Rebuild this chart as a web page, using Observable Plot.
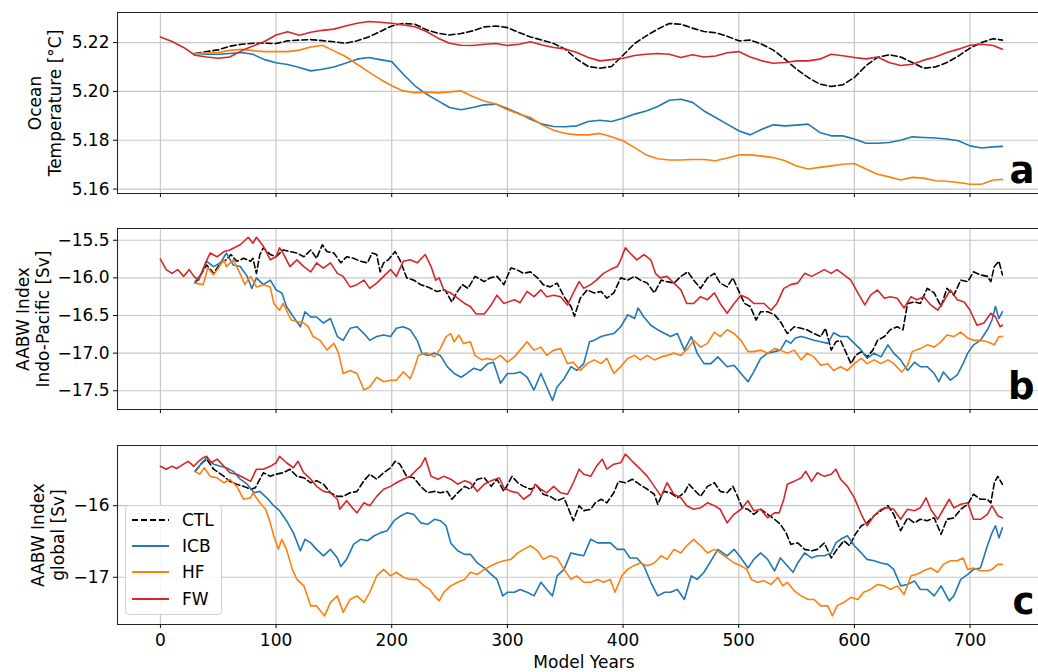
<!DOCTYPE html>
<html><head><meta charset="utf-8">
<script src="https://cdn.jsdelivr.net/npm/d3@7"></script>
<script src="https://cdn.jsdelivr.net/npm/@observablehq/plot@0.6"></script>
<style>
body{margin:0;background:#fff;}
#chart{position:relative;width:1038px;height:672px;font-family:"DejaVu Sans",sans-serif;overflow:hidden;}
#chart svg{position:absolute;left:0;}
#legend{position:absolute;left:125px;top:505px;width:97px;height:110px;box-sizing:border-box;border:1px solid #d0d0d0;border-radius:4px;background:rgba(255,255,255,0.85);}
.row{position:absolute;left:6px;height:26px;display:flex;align-items:center;font-size:17px;color:#000;}
.row svg{position:static !important;margin-right:13px;}
</style></head><body><div id="chart"></div>
<script>
// ---------- data ----------
const seriesNames = ["CTL","ICB","HF","FW"];
const seriesColors = ["#000000","#1f77b4","#ff7f0e","#d62728"];
const xTicks = [0,100,200,300,400,500,600,700];

// Panel a: Ocean temperature [°C]
const aCTL = [[30,5.2155],[40,5.2163],[50,5.217],[60,5.2185],[70,5.2193],[80,5.2197],[90,5.2197],[100,5.2196],[110,5.2207],[120,5.221],[130,5.2212],[140,5.2208],[150,5.2203],[160,5.2197],[170,5.2207],[180,5.2223],[190,5.2245],[200,5.2268],[210,5.2278],[220,5.2275],[230,5.2252],[240,5.2238],[250,5.2231],[260,5.2237],[270,5.2248],[280,5.2264],[290,5.2268],[300,5.2261],[310,5.2241],[320,5.2223],[330,5.221],[340,5.2196],[350,5.2173],[360,5.2132],[370,5.2102],[380,5.2095],[390,5.2102],[400,5.2148],[410,5.2196],[420,5.2227],[430,5.2255],[440,5.2278],[450,5.2275],[460,5.2259],[470,5.2245],[480,5.224],[490,5.2226],[500,5.2207],[510,5.221],[520,5.2193],[530,5.2169],[540,5.2132],[550,5.2091],[560,5.2057],[570,5.203],[580,5.202],[590,5.2027],[600,5.2057],[610,5.2105],[620,5.2139],[630,5.215],[640,5.2141],[650,5.2118],[660,5.2095],[670,5.21],[680,5.2118],[690,5.2145],[700,5.2177],[710,5.22],[720,5.2216],[728,5.221]];
const aICB = [[30,5.2155],[40,5.2152],[50,5.2152],[60,5.2155],[70,5.2159],[80,5.2152],[90,5.213],[100,5.2117],[110,5.211],[120,5.2098],[130,5.2084],[140,5.2091],[150,5.21],[160,5.2115],[170,5.2132],[180,5.2139],[190,5.213],[200,5.2122],[210,5.207],[220,5.2023],[230,5.1989],[240,5.1961],[250,5.1934],[260,5.1925],[270,5.1934],[280,5.1945],[290,5.1948],[300,5.193],[310,5.191],[320,5.1886],[330,5.1866],[340,5.1856],[350,5.1855],[360,5.1859],[370,5.1877],[380,5.1882],[390,5.1877],[400,5.189],[410,5.1907],[420,5.192],[430,5.1938],[440,5.1964],[450,5.1968],[460,5.1955],[470,5.192],[480,5.1893],[490,5.1866],[500,5.1839],[510,5.1822],[520,5.1845],[530,5.1863],[540,5.1859],[550,5.1862],[560,5.1866],[570,5.1832],[580,5.1818],[590,5.1818],[600,5.1805],[610,5.1788],[620,5.1788],[630,5.1791],[640,5.18],[650,5.1814],[660,5.1811],[670,5.1809],[680,5.1805],[690,5.1798],[700,5.1777],[710,5.1768],[720,5.1773],[728,5.1775]];
const aHF = [[30,5.2155],[40,5.2157],[50,5.2159],[60,5.2168],[70,5.2172],[80,5.2167],[90,5.2163],[100,5.2163],[110,5.2163],[120,5.2169],[130,5.2182],[140,5.2189],[150,5.2166],[160,5.2143],[170,5.2111],[180,5.208],[190,5.205],[200,5.2023],[210,5.2002],[220,5.1995],[230,5.1997],[240,5.1994],[250,5.1998],[260,5.2002],[270,5.1979],[280,5.1961],[290,5.1948],[300,5.1925],[310,5.1907],[320,5.1893],[330,5.1863],[340,5.1841],[350,5.1828],[360,5.1822],[370,5.1822],[380,5.1828],[390,5.1814],[400,5.1798],[410,5.177],[420,5.174],[430,5.1724],[440,5.1719],[450,5.1719],[460,5.1721],[470,5.1721],[480,5.1716],[490,5.1727],[500,5.174],[510,5.174],[520,5.1735],[530,5.1729],[540,5.1716],[550,5.1695],[560,5.1682],[570,5.1689],[580,5.1695],[590,5.1702],[600,5.1705],[610,5.1682],[620,5.1661],[630,5.165],[640,5.1637],[650,5.1648],[660,5.1645],[670,5.1634],[680,5.1632],[690,5.1627],[700,5.162],[710,5.162],[720,5.1637],[728,5.164]];
const aFW = [[0,5.2223],[10,5.2204],[20,5.218],[30,5.2148],[40,5.2141],[50,5.2136],[60,5.2141],[70,5.2166],[80,5.2186],[90,5.2204],[100,5.2231],[110,5.2244],[120,5.223],[130,5.2242],[140,5.225],[150,5.2255],[160,5.2268],[170,5.2279],[180,5.2286],[190,5.2283],[200,5.2279],[210,5.2272],[220,5.2265],[230,5.2245],[240,5.2218],[250,5.2197],[260,5.2189],[270,5.2188],[280,5.2193],[290,5.2196],[300,5.2188],[310,5.2193],[320,5.2203],[330,5.219],[340,5.218],[350,5.2174],[360,5.2159],[370,5.2139],[380,5.2125],[390,5.213],[400,5.2136],[410,5.2147],[420,5.2152],[430,5.2155],[440,5.2152],[450,5.2139],[460,5.215],[470,5.2141],[480,5.2145],[490,5.2158],[500,5.2163],[510,5.2141],[520,5.2125],[530,5.2115],[540,5.2118],[550,5.2125],[560,5.2125],[570,5.2132],[580,5.2152],[590,5.2146],[600,5.2139],[610,5.2133],[620,5.2141],[630,5.2118],[640,5.2106],[650,5.2111],[660,5.2128],[670,5.2141],[680,5.2159],[690,5.2173],[700,5.2189],[710,5.2193],[720,5.2188],[728,5.2173]];
const aTicks = [5.16,5.18,5.20,5.22];

// Panel b: AABW Index Indo-Pacific [Sv]
const bCTL = [[30,-16.07],[34,-15.98],[40,-15.83],[46,-15.94],[52,-15.80],[57,-15.76],[61,-15.69],[66,-15.78],[72,-15.74],[78,-15.78],[80,-15.74],[83,-15.94],[86,-15.69],[89,-15.60],[95,-15.69],[100,-15.72],[106,-15.63],[112,-15.65],[118,-15.67],[124,-15.72],[130,-15.63],[135,-15.74],[140,-15.56],[144,-15.65],[150,-15.67],[156,-15.80],[161,-15.72],[167,-15.74],[173,-15.78],[179,-15.80],[183,-15.67],[187,-15.69],[190,-15.92],[193,-15.80],[197,-15.76],[203,-15.65],[207,-15.76],[213,-16.00],[219,-16.03],[225,-16.09],[231,-16.12],[239,-16.18],[246,-16.16],[252,-16.32],[256,-16.20],[261,-16.09],[266,-16.14],[272,-15.98],[280,-16.05],[285,-16.00],[291,-15.98],[297,-16.09],[303,-15.87],[308,-15.89],[314,-15.94],[320,-15.92],[326,-16.00],[331,-16.09],[337,-16.12],[343,-16.07],[349,-16.25],[355,-16.38],[358,-16.51],[363,-16.27],[369,-16.16],[375,-16.20],[381,-16.18],[386,-16.27],[392,-16.20],[398,-16.00],[404,-16.03],[410,-15.98],[415,-16.03],[421,-16.07],[427,-16.20],[433,-16.03],[438,-16.05],[444,-16.07],[450,-15.98],[456,-15.92],[461,-16.03],[467,-16.14],[473,-16.00],[479,-15.94],[484,-16.07],[490,-16.12],[495,-16.00],[499,-16.14],[505,-16.34],[510,-16.38],[515,-16.56],[519,-16.45],[525,-16.45],[531,-16.49],[536,-16.58],[542,-16.74],[548,-16.65],[554,-16.67],[559,-16.69],[565,-16.74],[571,-16.78],[575,-16.67],[580,-16.96],[584,-16.85],[588,-16.83],[593,-17.00],[597,-17.14],[601,-17.03],[606,-16.98],[611,-17.05],[616,-16.96],[620,-16.83],[626,-16.78],[631,-16.69],[637,-16.65],[642,-16.69],[646,-16.34],[652,-16.32],[657,-16.34],[663,-16.14],[669,-16.20],[675,-16.38],[680,-16.14],[686,-16.23],[692,-16.03],[698,-16.05],[703,-15.92],[709,-15.96],[715,-15.98],[718,-16.05],[721,-15.85],[725,-15.78],[728,-15.96]];
const bICB = [[30,-16.05],[36,-15.94],[40,-15.78],[46,-15.85],[52,-15.80],[57,-15.67],[63,-15.83],[69,-15.85],[75,-15.98],[79,-16.14],[83,-16.00],[89,-16.09],[95,-16.03],[100,-16.16],[105,-16.20],[109,-16.38],[115,-16.52],[121,-16.65],[125,-16.45],[130,-16.52],[135,-16.52],[141,-16.60],[147,-16.54],[153,-16.78],[158,-16.83],[164,-16.67],[170,-16.65],[176,-16.74],[181,-16.83],[187,-16.78],[193,-16.76],[199,-16.78],[204,-16.67],[210,-16.65],[216,-16.69],[222,-16.83],[226,-17.00],[231,-17.03],[237,-17.00],[242,-17.03],[248,-17.18],[254,-17.27],[260,-17.32],[265,-17.27],[271,-17.20],[277,-17.23],[283,-17.14],[288,-17.12],[294,-17.40],[300,-17.27],[306,-17.27],[311,-17.25],[317,-17.32],[323,-17.49],[329,-17.27],[334,-17.45],[339,-17.63],[343,-17.45],[349,-17.34],[355,-17.18],[360,-17.23],[366,-17.14],[371,-16.85],[375,-16.83],[381,-16.78],[386,-16.76],[392,-16.74],[398,-16.65],[404,-16.49],[410,-16.54],[413,-16.40],[418,-16.52],[424,-16.63],[430,-16.69],[436,-16.74],[441,-16.78],[447,-16.74],[453,-16.96],[459,-16.78],[464,-17.00],[470,-17.14],[476,-17.14],[482,-17.05],[490,-17.18],[496,-17.16],[502,-17.27],[508,-17.38],[513,-17.25],[519,-17.07],[525,-17.00],[531,-16.98],[536,-16.96],[541,-16.83],[545,-16.87],[549,-16.80],[554,-16.78],[559,-16.80],[565,-16.83],[571,-16.85],[577,-16.87],[582,-16.73],[588,-16.78],[594,-16.78],[600,-16.87],[606,-16.96],[611,-17.07],[617,-17.00],[623,-17.05],[629,-16.89],[634,-17.00],[640,-17.09],[646,-17.23],[652,-17.12],[657,-17.18],[663,-17.18],[669,-17.27],[673,-17.38],[677,-17.25],[683,-17.36],[689,-17.29],[694,-17.14],[698,-17.00],[703,-16.89],[709,-16.83],[715,-16.69],[719,-16.56],[722,-16.38],[725,-16.54],[728,-16.45]];
const bHF = [[30,-16.07],[37,-16.09],[41,-15.87],[46,-15.96],[50,-15.87],[55,-15.76],[57,-15.85],[63,-15.76],[66,-15.85],[70,-15.98],[73,-16.09],[78,-15.98],[83,-16.12],[89,-16.09],[95,-16.12],[98,-16.34],[103,-16.43],[106,-16.34],[109,-16.43],[113,-16.56],[118,-16.58],[124,-16.60],[128,-16.65],[132,-16.78],[138,-16.83],[144,-16.96],[150,-16.87],[154,-17.00],[158,-17.27],[164,-17.23],[170,-17.27],[176,-17.49],[181,-17.45],[187,-17.32],[193,-17.38],[199,-17.36],[204,-17.36],[210,-17.25],[216,-17.34],[220,-17.18],[223,-17.03],[228,-17.00],[231,-17.00],[237,-17.05],[242,-16.94],[247,-16.78],[251,-16.74],[254,-16.85],[258,-16.76],[262,-16.87],[268,-16.85],[272,-17.03],[278,-17.09],[282,-17.07],[288,-17.09],[294,-17.03],[300,-17.12],[306,-17.05],[311,-16.96],[317,-16.85],[323,-16.96],[329,-16.92],[334,-17.03],[340,-16.96],[346,-16.94],[352,-17.14],[357,-17.12],[363,-17.23],[369,-17.14],[375,-17.09],[381,-17.14],[386,-17.07],[392,-17.27],[398,-17.18],[404,-17.07],[410,-17.03],[415,-17.09],[421,-17.03],[427,-17.09],[433,-17.05],[438,-17.03],[444,-17.00],[450,-17.03],[456,-16.94],[461,-16.83],[467,-16.92],[473,-16.87],[479,-16.72],[484,-16.78],[490,-16.69],[496,-16.74],[502,-16.83],[508,-16.98],[513,-16.98],[519,-16.96],[525,-17.00],[531,-16.94],[536,-16.96],[542,-17.00],[548,-16.96],[554,-17.09],[559,-17.00],[565,-17.05],[571,-17.16],[577,-17.14],[582,-17.23],[588,-17.18],[594,-17.23],[600,-17.14],[606,-17.07],[611,-17.14],[617,-17.09],[623,-17.14],[629,-17.09],[634,-17.14],[641,-17.25],[646,-17.16],[650,-16.98],[657,-16.94],[663,-16.89],[669,-16.92],[675,-16.85],[680,-16.76],[686,-16.78],[692,-16.72],[698,-16.80],[703,-16.83],[709,-16.83],[715,-16.85],[721,-16.89],[725,-16.78],[728,-16.78]];
const bFW = [[0,-15.75],[5,-15.89],[10,-15.94],[15,-15.89],[20,-15.98],[25,-15.89],[29,-15.98],[33,-16.03],[39,-15.80],[43,-15.67],[49,-15.72],[55,-15.65],[60,-15.63],[69,-15.56],[76,-15.46],[80,-15.54],[83,-15.46],[89,-15.58],[95,-15.76],[100,-15.72],[103,-15.60],[106,-15.67],[112,-15.85],[118,-15.76],[124,-15.85],[130,-15.92],[135,-15.80],[141,-15.87],[147,-15.80],[153,-15.94],[158,-15.98],[164,-16.12],[170,-16.09],[176,-16.03],[181,-16.14],[187,-16.07],[193,-15.98],[199,-15.89],[204,-15.98],[210,-15.78],[216,-15.76],[222,-15.80],[229,-15.69],[234,-15.85],[238,-16.03],[241,-16.00],[245,-16.16],[251,-16.20],[257,-16.27],[263,-16.34],[268,-16.38],[273,-16.48],[280,-16.48],[286,-16.36],[291,-16.23],[297,-16.34],[306,-16.29],[311,-16.33],[317,-16.18],[323,-16.25],[329,-16.16],[334,-16.25],[340,-16.23],[346,-16.25],[352,-16.36],[357,-16.20],[362,-16.05],[366,-16.14],[372,-16.09],[377,-16.03],[383,-15.94],[389,-15.89],[395,-15.85],[398,-15.76],[402,-15.60],[406,-15.67],[412,-15.76],[418,-15.69],[424,-15.76],[428,-15.94],[432,-16.00],[438,-15.98],[444,-16.07],[450,-16.16],[455,-16.34],[461,-16.34],[467,-16.25],[473,-16.29],[479,-16.20],[484,-16.34],[490,-16.47],[496,-16.34],[502,-16.23],[508,-16.27],[513,-16.34],[522,-16.34],[528,-16.43],[533,-16.34],[539,-16.14],[545,-16.09],[551,-16.07],[557,-15.94],[563,-15.98],[568,-15.94],[574,-15.89],[580,-15.94],[585,-15.89],[591,-15.96],[597,-16.03],[603,-16.20],[609,-16.36],[614,-16.23],[620,-16.16],[626,-16.27],[631,-16.25],[637,-16.27],[643,-16.40],[649,-16.25],[654,-16.29],[660,-16.25],[666,-16.36],[672,-16.43],[677,-16.32],[683,-16.16],[689,-16.29],[695,-16.32],[700,-16.43],[706,-16.63],[712,-16.60],[718,-16.47],[722,-16.52],[726,-16.65],[728,-16.63]];
const bTicks = [-17.5,-17.0,-16.5,-16.0,-15.5];

// Panel c: AABW Index global [Sv]
const cCTL = [[30,-15.52],[36,-15.40],[40,-15.35],[46,-15.49],[55,-15.59],[60,-15.66],[66,-15.70],[72,-15.73],[78,-15.77],[82,-15.75],[86,-15.63],[89,-15.54],[95,-15.59],[100,-15.56],[106,-15.54],[112,-15.49],[118,-15.59],[124,-15.61],[130,-15.68],[135,-15.65],[141,-15.70],[147,-15.82],[153,-15.87],[158,-15.87],[164,-15.82],[170,-15.80],[176,-15.65],[181,-15.56],[187,-15.63],[193,-15.54],[199,-15.47],[203,-15.38],[207,-15.42],[213,-15.59],[219,-15.61],[225,-15.73],[231,-15.82],[237,-15.80],[242,-15.82],[248,-15.80],[252,-15.91],[257,-15.82],[263,-15.73],[268,-15.77],[274,-15.63],[280,-15.61],[286,-15.73],[291,-15.63],[297,-15.80],[304,-15.59],[309,-15.68],[314,-15.73],[320,-15.77],[326,-15.73],[331,-15.84],[337,-15.87],[343,-15.93],[349,-15.89],[353,-16.05],[357,-16.21],[362,-16.00],[366,-16.07],[372,-16.05],[376,-15.96],[381,-15.91],[386,-15.96],[392,-15.82],[396,-15.66],[402,-15.68],[408,-15.63],[414,-15.70],[421,-15.77],[427,-15.84],[430,-15.98],[435,-15.80],[441,-15.82],[447,-15.89],[453,-15.82],[457,-15.70],[461,-15.77],[467,-15.87],[473,-15.73],[479,-15.68],[484,-15.80],[490,-15.82],[495,-15.73],[499,-15.87],[503,-16.03],[508,-16.05],[513,-16.12],[519,-16.05],[525,-16.12],[531,-16.19],[536,-16.26],[541,-16.38],[545,-16.54],[551,-16.52],[557,-16.61],[563,-16.63],[568,-16.61],[574,-16.52],[580,-16.73],[585,-16.61],[591,-16.49],[596,-16.56],[600,-16.42],[606,-16.28],[611,-16.24],[617,-16.14],[623,-16.07],[629,-16.00],[634,-16.12],[640,-16.35],[646,-16.17],[652,-16.24],[657,-16.19],[663,-16.21],[669,-16.17],[675,-16.40],[680,-16.19],[686,-16.17],[692,-16.05],[698,-15.98],[703,-15.84],[709,-15.91],[715,-15.91],[718,-15.96],[721,-15.68],[724,-15.59],[728,-15.70]];
const cICB = [[30,-15.52],[36,-15.40],[40,-15.33],[46,-15.42],[52,-15.45],[57,-15.47],[63,-15.52],[69,-15.63],[75,-15.70],[81,-15.82],[86,-15.80],[92,-15.89],[98,-16.00],[103,-16.07],[109,-16.21],[115,-16.38],[121,-16.63],[125,-16.47],[130,-16.52],[135,-16.61],[141,-16.70],[147,-16.61],[153,-16.73],[156,-16.85],[161,-16.75],[167,-16.54],[173,-16.47],[179,-16.49],[185,-16.42],[190,-16.38],[196,-16.35],[202,-16.21],[208,-16.14],[213,-16.10],[219,-16.12],[225,-16.24],[231,-16.26],[237,-16.19],[242,-16.21],[247,-16.28],[251,-16.52],[257,-16.63],[263,-16.68],[268,-16.68],[274,-16.80],[280,-16.87],[286,-16.96],[291,-17.03],[296,-17.26],[300,-17.21],[306,-17.21],[311,-17.17],[317,-17.21],[323,-17.26],[329,-17.07],[334,-17.17],[339,-17.26],[343,-16.98],[349,-16.89],[355,-16.66],[360,-16.68],[366,-16.70],[372,-16.47],[378,-16.52],[383,-16.52],[389,-16.52],[395,-16.61],[401,-16.61],[406,-16.73],[412,-16.73],[418,-16.84],[424,-17.07],[430,-17.26],[436,-17.21],[441,-17.21],[447,-17.17],[453,-17.31],[459,-16.98],[464,-17.03],[470,-16.93],[476,-16.77],[482,-16.61],[490,-16.70],[496,-16.61],[502,-16.73],[508,-16.87],[513,-16.75],[519,-16.66],[525,-16.75],[531,-16.91],[536,-16.73],[542,-16.84],[547,-16.93],[551,-16.80],[557,-16.66],[563,-16.73],[568,-16.70],[574,-16.70],[580,-16.66],[584,-16.52],[588,-16.47],[594,-16.42],[600,-16.56],[606,-16.66],[611,-16.75],[617,-16.77],[623,-16.80],[629,-16.82],[634,-16.89],[640,-17.12],[646,-17.10],[652,-17.05],[657,-17.17],[663,-17.17],[669,-17.26],[675,-17.12],[682,-17.33],[686,-17.26],[692,-17.03],[698,-16.96],[703,-16.89],[709,-16.87],[715,-16.56],[719,-16.38],[722,-16.28],[725,-16.45],[728,-16.31]];
const cHF = [[30,-15.52],[34,-15.56],[38,-15.47],[43,-15.59],[49,-15.61],[55,-15.68],[60,-15.63],[66,-15.73],[72,-15.91],[78,-15.89],[80,-15.82],[86,-15.96],[91,-16.05],[95,-16.24],[98,-16.42],[102,-16.61],[105,-16.47],[109,-16.61],[114,-16.89],[118,-17.03],[124,-17.12],[130,-17.40],[135,-17.40],[142,-17.54],[147,-17.35],[153,-17.26],[158,-17.49],[164,-17.31],[170,-17.26],[176,-17.35],[181,-17.21],[187,-16.98],[193,-16.89],[199,-16.98],[204,-16.93],[210,-17.00],[216,-17.03],[222,-17.03],[228,-17.12],[233,-17.17],[237,-17.26],[241,-17.33],[245,-17.21],[251,-17.12],[257,-17.07],[263,-17.03],[268,-16.93],[274,-16.96],[280,-16.89],[286,-16.84],[291,-16.80],[297,-16.77],[303,-16.75],[309,-16.66],[314,-16.61],[320,-16.56],[326,-16.63],[331,-16.75],[337,-16.70],[343,-16.73],[349,-16.89],[355,-17.03],[360,-16.98],[366,-17.07],[372,-17.07],[378,-17.03],[383,-17.07],[389,-17.03],[393,-17.21],[399,-16.98],[404,-16.89],[409,-16.84],[415,-16.80],[421,-16.84],[427,-16.80],[433,-16.70],[438,-16.75],[444,-16.61],[450,-16.66],[455,-16.56],[461,-16.47],[467,-16.56],[473,-16.66],[479,-16.61],[484,-16.66],[490,-16.73],[496,-16.80],[502,-16.84],[507,-16.89],[511,-17.03],[516,-17.07],[522,-17.05],[528,-17.10],[534,-17.00],[538,-17.12],[542,-17.07],[548,-17.19],[554,-17.26],[560,-17.31],[565,-17.31],[571,-17.40],[577,-17.40],[581,-17.54],[585,-17.40],[591,-17.35],[597,-17.28],[603,-17.31],[608,-17.21],[614,-17.17],[620,-17.10],[626,-17.12],[631,-17.17],[637,-17.12],[643,-17.24],[649,-16.98],[654,-16.96],[660,-16.91],[666,-16.87],[672,-16.93],[677,-16.82],[683,-16.77],[689,-16.77],[694,-16.73],[698,-16.89],[703,-16.87],[709,-16.91],[715,-16.91],[719,-16.89],[724,-16.82],[728,-16.82]];
const cFW = [[0,-15.45],[5,-15.49],[10,-15.45],[14,-15.48],[20,-15.42],[24,-15.38],[29,-15.45],[33,-15.38],[37,-15.33],[40,-15.31],[44,-15.40],[49,-15.35],[55,-15.45],[60,-15.54],[66,-15.56],[72,-15.61],[78,-15.66],[83,-15.49],[89,-15.49],[95,-15.45],[100,-15.40],[103,-15.31],[109,-15.40],[115,-15.47],[119,-15.38],[124,-15.54],[130,-15.63],[135,-15.73],[141,-15.80],[147,-15.82],[153,-15.91],[155,-16.05],[161,-15.93],[167,-16.05],[170,-16.10],[176,-15.96],[181,-16.00],[187,-15.87],[193,-15.77],[199,-15.73],[204,-15.68],[210,-15.63],[216,-15.59],[222,-15.49],[225,-15.45],[229,-15.33],[234,-15.59],[240,-15.63],[245,-15.59],[251,-15.63],[257,-15.70],[263,-15.65],[268,-15.68],[274,-15.80],[280,-15.70],[286,-15.65],[293,-15.61],[297,-15.75],[303,-15.80],[309,-15.82],[314,-15.91],[320,-15.84],[324,-15.70],[329,-15.77],[334,-15.82],[340,-15.73],[346,-15.82],[352,-15.84],[357,-15.68],[362,-15.49],[366,-15.56],[372,-15.59],[377,-15.45],[382,-15.35],[386,-15.49],[392,-15.42],[398,-15.40],[402,-15.28],[408,-15.38],[415,-15.49],[421,-15.59],[427,-15.73],[433,-15.87],[438,-15.68],[444,-15.84],[450,-15.89],[455,-16.00],[461,-16.05],[467,-16.03],[473,-15.96],[479,-16.00],[484,-16.05],[490,-16.24],[496,-16.12],[502,-16.05],[508,-15.93],[513,-16.07],[519,-16.05],[525,-16.17],[531,-16.10],[535,-16.10],[539,-15.91],[542,-15.70],[548,-15.66],[554,-15.61],[558,-15.52],[563,-15.66],[568,-15.54],[574,-15.59],[580,-15.56],[584,-15.49],[588,-15.63],[594,-15.73],[600,-15.89],[606,-16.12],[611,-16.28],[617,-16.14],[623,-16.05],[629,-16.03],[634,-16.05],[640,-16.19],[646,-16.05],[652,-16.07],[657,-16.03],[662,-15.89],[666,-16.05],[672,-16.19],[677,-16.05],[682,-15.91],[686,-16.03],[692,-15.98],[698,-15.96],[703,-16.19],[709,-16.19],[715,-16.12],[719,-16.00],[724,-16.14],[728,-16.17]];
const cTicks = [-17,-16];

// ---------- drawing ----------
const W = 1038, ML = 117;
const xDomain = [-37.1, 759.2];
const FONT = "DejaVu Sans";
const gridColor = "#c8c8c8";

function panel({top, height, mt, mb, yDomain, yTicks, yFmt, series, ylabel, ylabelX, letter, showX}) {
  const marks = [
    Plot.ruleX(xTicks, {stroke: gridColor, strokeWidth: 1.2}),
    Plot.ruleY(yTicks, {stroke: gridColor, strokeWidth: 1.2}),
  ];
  series.forEach((s, i) => {
    marks.push(Plot.line(s, {x: d => d[0], y: d => d[1], stroke: seriesColors[i],
      strokeWidth: 1.6, strokeDasharray: i === 0 ? "6,3" : null, curve: "linear"}));
  });
  marks.push(
    Plot.ruleY([yDomain[0], yDomain[1]], {stroke: "#262626", strokeWidth: 1.1}),
    Plot.ruleX([xDomain[0]], {stroke: "#262626", strokeWidth: 1.1}),
    Plot.axisY(yTicks, {tickFormat: yFmt, tickSize: 4, tickPadding: 4, fontSize: 17, label: null, stroke: "#000"}),
    Plot.axisX(xTicks, {tickSize: 4, tickPadding: 5, fontSize: 17, label: null,
      tickFormat: showX ? d3.format("d") : () => ""}),
    Plot.text([ylabel], {frameAnchor: "left", dx: ylabelX - ML, rotate: -90, fontSize: 17,
      lineHeight: 1.18, textAnchor: "middle", lineAnchor: "middle", fill: "#000"}),
    Plot.text([letter], {frameAnchor: "bottom-right", dx: -4, dy: -11, fontSize: 37,
      fontWeight: "bold", textAnchor: "end", lineAnchor: "bottom", fill: "#000"})
  );
  if (showX) {
    marks.push(Plot.text(["Model Years"], {frameAnchor: "bottom", dx: 6, dy: 38, fontSize: 17,
      textAnchor: "middle", lineAnchor: "middle", fill: "#000"}));
  }
  const svg = Plot.plot({
    width: W, height, marginLeft: ML, marginRight: 0, marginTop: mt, marginBottom: mb,
    x: {domain: xDomain, axis: null},
    y: {domain: yDomain, axis: null},
    style: {fontFamily: FONT, fontSize: "17px", background: "transparent", color: "#000", overflow: "visible"},
    marks
  });
  svg.style.top = top + "px";
  return svg;
}

const chart = document.getElementById("chart");
chart.appendChild(panel({top: 0, height: 228, mt: 12, mb: 35, yDomain: [5.1582, 5.2323], yTicks: aTicks,
  yFmt: d3.format(".2f"), series: [aCTL, aICB, aHF, aFW], ylabel: "Ocean\nTemperature [°C]", ylabelX: 44, letter: "a", showX: false}));
chart.appendChild(panel({top: 216, height: 228, mt: 12, mb: 35, yDomain: [-17.749, -15.344], yTicks: bTicks,
  yFmt: d3.format(".1f"), series: [bCTL, bICB, bHF, bFW], ylabel: "AABW Index\nIndo-Pacific [Sv]", ylabelX: 32, letter: "b", showX: false}));
chart.appendChild(panel({top: 432, height: 240, mt: 13, mb: 48, yDomain: [-17.66, -15.159], yTicks: cTicks,
  yFmt: d3.format("d"), series: [cCTL, cICB, cHF, cFW], ylabel: "AABW Index\nglobal [Sv]", ylabelX: 47, letter: "c", showX: true}));

// legend
const legend = document.createElement("div");
legend.id = "legend";
seriesNames.forEach((name, i) => {
  const row = document.createElement("div");
  row.className = "row";
  row.style.top = (1 + i * 26.2) + "px";
  const dash = i === 0 ? ' stroke-dasharray="6,3"' : "";
  row.innerHTML = `<svg width="37" height="10"><line x1="0" y1="5" x2="37" y2="5" stroke="${seriesColors[i]}" stroke-width="1.8"${dash}/></svg><span>${name}</span>`;
  legend.appendChild(row);
});
chart.appendChild(legend);
</script>
</body></html>
